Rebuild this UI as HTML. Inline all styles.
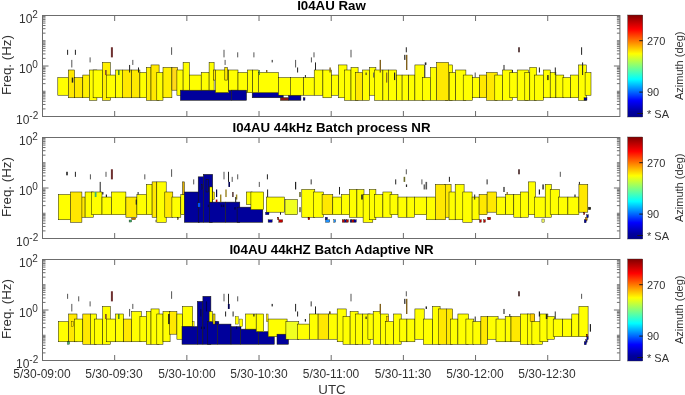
<!DOCTYPE html>
<html><head><meta charset="utf-8"><style>
html,body{margin:0;padding:0;background:#fff;overflow:hidden;}
body{width:685px;height:395px;position:relative;overflow:hidden;font-family:"Liberation Sans",sans-serif;color:#333;}
.t{position:absolute;white-space:nowrap;line-height:1;will-change:transform;}
.title{font-weight:bold;font-size:13.3px;color:#000;text-align:center;width:577px;left:42.5px;}
.yl{font-size:13.3px;transform:rotate(-90deg);transform-origin:0 0;}
.tk{font-size:12px;}
.sup{font-size:10px;position:relative;top:-5.1px;}
.xt{font-size:12px;width:80px;text-align:center;}
.cb{font-size:11px;}
.yl2{font-size:11px;transform:rotate(-90deg);transform-origin:0 0;}
</style></head><body>
<svg width="685" height="395" viewBox="0 0 685 395" style="position:absolute;left:0;top:0">
<g stroke-width="0.5" stroke="#1c1c00">
<rect x="57.8" y="77.56" width="10.5" height="17.67" fill="#ffff00"/>
<rect x="68.3" y="69.99" width="6.2" height="27.78" fill="#ffe800"/>
<rect x="74.5" y="77.56" width="8.3" height="20.20" fill="#ffe800"/>
<rect x="82.8" y="75.04" width="6.6" height="22.72" fill="#fff000"/>
<rect x="89.4" y="69.99" width="7.5" height="30.30" fill="#ffff00"/>
<rect x="93.1" y="69.99" width="9.4" height="27.78" fill="#ffff00"/>
<rect x="102.5" y="62.41" width="7.8" height="37.88" fill="#fff000"/>
<rect x="106.4" y="75.04" width="9.2" height="22.72" fill="#ffff00"/>
<rect x="115.6" y="69.99" width="6.7" height="27.78" fill="#ffff00"/>
<rect x="122.3" y="69.99" width="9.3" height="27.78" fill="#ffe800"/>
<rect x="131.6" y="69.99" width="8.3" height="27.78" fill="#ffe800"/>
<rect x="139.9" y="72.51" width="6.4" height="25.25" fill="#ffff00"/>
<rect x="146.3" y="67.46" width="4.7" height="32.83" fill="#fff000"/>
<rect x="151.0" y="64.94" width="8.1" height="35.35" fill="#ffe800"/>
<rect x="156.8" y="72.51" width="6.2" height="27.78" fill="#ffff00"/>
<rect x="163.0" y="67.46" width="8.9" height="30.30" fill="#fff000"/>
<rect x="171.9" y="67.46" width="5.7" height="22.72" fill="#ffd818"/>
<rect x="176.9" y="69.99" width="6.2" height="25.25" fill="#ffff00"/>
<rect x="180.4" y="90.19" width="50.9" height="10.10" fill="#00009b"/>
<rect x="252.2" y="92.71" width="31.0" height="5.05" fill="#00009b"/>
<rect x="280.5" y="97.76" width="8.0" height="2.53" fill="#8a1414"/>
<rect x="288.5" y="95.24" width="12.4" height="5.05" fill="#00009b"/>
<rect x="303.2" y="97.76" width="1.8" height="2.53" fill="#00009b" stroke-width="0.35"/>
<rect x="183.1" y="62.41" width="6.2" height="27.77" fill="#ffff00"/>
<rect x="189.3" y="75.04" width="11.9" height="15.15" fill="#ffff00"/>
<rect x="201.2" y="72.51" width="7.9" height="17.67" fill="#ffff00"/>
<rect x="209.1" y="62.41" width="5.0" height="27.77" fill="#ffff00"/>
<rect x="213.6" y="69.99" width="1.8" height="10.10" fill="#ffe800"/>
<rect x="215.4" y="69.99" width="13.3" height="22.73" fill="#ffff00"/>
<rect x="224.8" y="67.46" width="2.6" height="12.62" fill="#ffe800"/>
<rect x="228.7" y="69.99" width="9.3" height="20.20" fill="#ffff00"/>
<rect x="238.0" y="72.51" width="9.4" height="20.20" fill="#ffff00"/>
<rect x="231.3" y="90.19" width="15.2" height="10.10" fill="#00009b"/>
<rect x="247.4" y="69.99" width="5.3" height="22.73" fill="#ffff00"/>
<rect x="252.7" y="69.99" width="5.7" height="22.73" fill="#ffff00"/>
<rect x="258.4" y="72.51" width="20.0" height="20.20" fill="#ffff00"/>
<rect x="278.4" y="77.56" width="11.9" height="17.67" fill="#ffff00"/>
<rect x="290.3" y="77.56" width="13.3" height="17.67" fill="#ffff00"/>
<rect x="303.6" y="77.56" width="10.6" height="17.67" fill="#ffff00"/>
<rect x="314.2" y="69.99" width="8.7" height="25.25" fill="#ffff00"/>
<rect x="322.9" y="69.99" width="8.6" height="27.78" fill="#ffff00"/>
<rect x="331.5" y="75.04" width="7.1" height="20.20" fill="#ffff00"/>
<rect x="338.6" y="64.94" width="8.4" height="32.83" fill="#ffff00"/>
<rect x="344.5" y="69.99" width="6.5" height="30.30" fill="#ffff00"/>
<rect x="351.0" y="67.46" width="7.1" height="32.83" fill="#ffff00"/>
<rect x="355.5" y="72.51" width="7.1" height="27.78" fill="#ffe800"/>
<rect x="362.6" y="69.99" width="7.0" height="30.30" fill="#ffff00"/>
<rect x="369.6" y="67.46" width="6.3" height="27.77" fill="#ffff00"/>
<rect x="374.6" y="69.99" width="8.3" height="30.30" fill="#ffff00"/>
<rect x="382.9" y="69.99" width="5.4" height="30.30" fill="#ffff00"/>
<rect x="388.3" y="69.99" width="8.3" height="30.30" fill="#ffff00"/>
<rect x="396.6" y="75.04" width="5.5" height="25.25" fill="#ffff00"/>
<rect x="402.1" y="75.04" width="6.6" height="25.25" fill="#ffff00"/>
<rect x="408.7" y="75.04" width="6.2" height="25.25" fill="#ffff00"/>
<rect x="414.9" y="64.94" width="9.6" height="35.35" fill="#ffff00"/>
<rect x="422.4" y="77.56" width="8.0" height="22.73" fill="#ffff00"/>
<rect x="430.4" y="67.46" width="6.2" height="32.83" fill="#ffff00"/>
<rect x="445.5" y="64.94" width="7.1" height="35.35" fill="#ffff00"/>
<rect x="436.6" y="62.41" width="12.1" height="37.88" fill="#ffe800"/>
<rect x="449.4" y="72.51" width="6.3" height="27.78" fill="#ffff00"/>
<rect x="455.7" y="69.99" width="10.2" height="30.30" fill="#ffff00"/>
<rect x="463.2" y="75.04" width="9.2" height="25.25" fill="#ffff00"/>
<rect x="472.4" y="77.56" width="7.3" height="20.20" fill="#ffff00"/>
<rect x="479.7" y="75.04" width="6.9" height="22.72" fill="#ffe800"/>
<rect x="486.6" y="72.51" width="10.6" height="27.78" fill="#ffe800"/>
<rect x="494.8" y="75.04" width="7.8" height="25.25" fill="#ffff00"/>
<rect x="502.6" y="69.99" width="9.8" height="30.30" fill="#ffff00"/>
<rect x="509.8" y="72.51" width="7.4" height="25.25" fill="#ffff00"/>
<rect x="517.2" y="69.99" width="11.2" height="30.30" fill="#ffff00"/>
<rect x="524.8" y="72.51" width="5.0" height="27.78" fill="#ffff00"/>
<rect x="529.8" y="67.46" width="6.9" height="32.83" fill="#ffff00"/>
<rect x="534.6" y="75.04" width="8.8" height="25.25" fill="#ffff00"/>
<rect x="543.4" y="69.99" width="6.8" height="27.78" fill="#ffff00"/>
<rect x="550.2" y="72.51" width="5.7" height="25.25" fill="#ffff00"/>
<rect x="555.9" y="75.04" width="7.9" height="22.72" fill="#ffff00"/>
<rect x="562.9" y="77.56" width="7.7" height="20.20" fill="#ffff00"/>
<rect x="570.6" y="75.04" width="7.9" height="22.72" fill="#ffff00"/>
<rect x="578.5" y="64.94" width="7.8" height="35.35" fill="#ffff00"/>
<rect x="585.1" y="72.51" width="5.9" height="22.72" fill="#ffff00"/>
<rect x="584.0" y="97.76" width="3.0" height="2.53" fill="#00009b" stroke-width="0.35"/>
</g>
<rect x="67.10" y="49.79" width="1" height="5.05" fill="#222"/>
<rect x="74.90" y="49.79" width="1" height="5.05" fill="#222"/>
<rect x="71.30" y="59.89" width="1" height="7.58" fill="#555"/>
<rect x="89.60" y="57.36" width="1" height="5.05" fill="#555"/>
<rect x="110.90" y="47.26" width="2" height="10.10" fill="#6e3030"/>
<rect x="132.30" y="59.89" width="1" height="5.05" fill="#555"/>
<rect x="129.10" y="64.94" width="1" height="7.58" fill="#222"/>
<rect x="138.00" y="67.46" width="1" height="5.05" fill="#222"/>
<rect x="105.20" y="69.99" width="1.4" height="5.05" fill="#6e3030"/>
<rect x="118.10" y="69.99" width="1.4" height="5.05" fill="#2e7d32"/>
<rect x="71.75" y="77.56" width="1.5" height="5.05" fill="#222"/>
<rect x="171.10" y="47.26" width="1" height="7.58" fill="#555"/>
<rect x="223.50" y="49.79" width="1" height="7.57" fill="#555"/>
<rect x="224.60" y="59.89" width="1" height="5.05" fill="#555"/>
<rect x="237.20" y="52.31" width="1" height="5.05" fill="#555"/>
<rect x="253.40" y="52.31" width="1" height="5.05" fill="#555"/>
<rect x="271.70" y="59.89" width="1" height="2.52" fill="#222"/>
<rect x="295.10" y="59.89" width="1" height="7.58" fill="#555"/>
<rect x="297.10" y="67.46" width="1" height="5.05" fill="#222"/>
<rect x="310.90" y="57.36" width="1" height="5.05" fill="#555"/>
<rect x="313.50" y="52.31" width="1" height="5.05" fill="#555"/>
<rect x="315.00" y="62.41" width="1" height="7.57" fill="#222"/>
<rect x="304.90" y="75.04" width="1" height="2.52" fill="#222"/>
<rect x="266.00" y="69.99" width="1.4" height="2.53" fill="#80601c"/>
<rect x="258.80" y="69.99" width="1" height="5.05" fill="#2e7d32"/>
<rect x="350.50" y="49.79" width="1" height="7.57" fill="#555"/>
<rect x="329.40" y="67.46" width="1.4" height="5.05" fill="#80601c"/>
<rect x="379.60" y="59.89" width="1.4" height="12.62" fill="#80601c"/>
<rect x="405.80" y="47.26" width="1" height="5.05" fill="#222"/>
<rect x="404.20" y="54.84" width="1.2" height="5.05" fill="#222"/>
<rect x="406.00" y="54.84" width="1.4" height="15.15" fill="#80601c"/>
<rect x="365.60" y="72.51" width="1" height="2.53" fill="#222"/>
<rect x="373.20" y="72.51" width="1" height="5.05" fill="#555"/>
<rect x="386.10" y="72.51" width="1.2" height="10.10" fill="#80601c"/>
<rect x="394.00" y="72.51" width="1.2" height="7.58" fill="#222"/>
<rect x="424.80" y="62.41" width="1.6" height="2.52" fill="#222"/>
<rect x="424.50" y="64.94" width="0.8" height="12.62" fill="#222"/>
<rect x="474.70" y="72.51" width="1" height="5.05" fill="#555"/>
<rect x="503.50" y="64.94" width="1" height="5.05" fill="#222"/>
<rect x="518.10" y="47.26" width="1.8" height="5.05" fill="#553838"/>
<rect x="538.90" y="67.46" width="1" height="5.05" fill="#222"/>
<rect x="554.80" y="67.46" width="1" height="7.58" fill="#222"/>
<rect x="581.10" y="47.26" width="1" height="7.58" fill="#222"/>
<rect x="582.10" y="62.41" width="1" height="12.63" fill="#222"/>
<rect x="547.20" y="75.04" width="1.4" height="5.05" fill="#222"/>
<rect x="511.90" y="69.99" width="1" height="2.53" fill="#222"/>
<rect x="42.5" y="15.5" width="577.4" height="101.0" fill="none" stroke="#6c6c6c" stroke-width="1"/>
<path d="M42.5 16.66h3M619.9 16.66h-3M42.5 17.95h3M619.9 17.95h-3M42.5 19.41h3M619.9 19.41h-3M42.5 21.10h3M619.9 21.10h-3M42.5 23.10h3M619.9 23.10h-3M42.5 25.55h3M619.9 25.55h-3M42.5 28.70h3M619.9 28.70h-3M42.5 33.15h3M619.9 33.15h-3M42.5 40.75h3M619.9 40.75h-3M42.5 41.91h3M619.9 41.91h-3M42.5 43.20h3M619.9 43.20h-3M42.5 44.66h3M619.9 44.66h-3M42.5 46.35h3M619.9 46.35h-3M42.5 48.35h3M619.9 48.35h-3M42.5 50.80h3M619.9 50.80h-3M42.5 53.95h3M619.9 53.95h-3M42.5 58.40h3M619.9 58.40h-3M42.5 66.00h6M619.9 66.00h-6M42.5 67.16h3M619.9 67.16h-3M42.5 68.45h3M619.9 68.45h-3M42.5 69.91h3M619.9 69.91h-3M42.5 71.60h3M619.9 71.60h-3M42.5 73.60h3M619.9 73.60h-3M42.5 76.05h3M619.9 76.05h-3M42.5 79.20h3M619.9 79.20h-3M42.5 83.65h3M619.9 83.65h-3M42.5 91.25h3M619.9 91.25h-3M42.5 92.41h3M619.9 92.41h-3M42.5 93.70h3M619.9 93.70h-3M42.5 95.16h3M619.9 95.16h-3M42.5 96.85h3M619.9 96.85h-3M42.5 98.85h3M619.9 98.85h-3M42.5 101.30h3M619.9 101.30h-3M42.5 104.45h3M619.9 104.45h-3M42.5 108.90h3M619.9 108.90h-3M114.67 15.5v5.5M114.67 116.5v-5.5M186.85 15.5v5.5M186.85 116.5v-5.5M259.02 15.5v5.5M259.02 116.5v-5.5M331.20 15.5v5.5M331.20 116.5v-5.5M403.38 15.5v5.5M403.38 116.5v-5.5M475.55 15.5v5.5M475.55 116.5v-5.5M547.72 15.5v5.5M547.72 116.5v-5.5" stroke="#6c6c6c" stroke-width="1" fill="none"/>
<rect x="627.7" y="15.0" width="15.1" height="102.0" fill="url(#jet)" stroke="#333" stroke-width="0.4"/>
<path d="M642.8 40.7h-3.5M642.8 92.1h-3.5M642.8 113.5h-5.5" stroke="#1a1a1a" stroke-width="1"/>
<g stroke-width="0.5" stroke="#1c1c00">
<rect x="58.3" y="194.51" width="12.1" height="25.25" fill="#ffff00"/>
<rect x="79.3" y="197.04" width="5.8" height="20.20" fill="#ffe800"/>
<rect x="70.4" y="191.99" width="11.5" height="30.30" fill="#ffe800"/>
<rect x="85.1" y="191.99" width="8.3" height="25.25" fill="#ffff00"/>
<rect x="91.7" y="191.99" width="10.3" height="22.72" fill="#ffff00"/>
<rect x="102.0" y="197.04" width="9.5" height="17.67" fill="#ffff00"/>
<rect x="111.5" y="191.99" width="14.4" height="22.72" fill="#ffff00"/>
<rect x="125.9" y="197.04" width="11.0" height="20.20" fill="#ffe800"/>
<rect x="136.9" y="194.51" width="9.4" height="20.20" fill="#ffff00"/>
<rect x="129.1" y="220.01" width="2.6" height="2.02" fill="#3cb371" stroke-width="0.35"/>
<rect x="131.7" y="218.00" width="4.0" height="1.64" fill="#e08000" stroke-width="0.35"/>
<rect x="146.3" y="184.41" width="5.8" height="30.30" fill="#ffff00"/>
<rect x="152.1" y="181.89" width="4.7" height="35.35" fill="#ffe800"/>
<rect x="156.8" y="181.89" width="9.4" height="40.40" fill="#ffff00"/>
<rect x="164.8" y="191.99" width="8.0" height="25.25" fill="#ffe800"/>
<rect x="171.9" y="197.04" width="8.9" height="20.20" fill="#ffff00"/>
<rect x="180.8" y="194.51" width="3.5" height="20.20" fill="#ffff00"/>
<rect x="182.6" y="181.89" width="1.7" height="12.62" fill="#e0b000"/>
<rect x="177.3" y="217.24" width="1.1" height="2.53" fill="#9a8420" stroke-width="0.35"/>
<rect x="184.3" y="191.99" width="15.1" height="30.30" fill="#00009b"/>
<rect x="198.2" y="176.84" width="5.1" height="45.45" fill="#00009b"/>
<rect x="203.3" y="174.31" width="9.4" height="47.97" fill="#00009b"/>
<rect x="209.5" y="202.09" width="16.0" height="20.20" fill="#00009b"/>
<rect x="225.5" y="202.09" width="14.3" height="20.20" fill="#00009b"/>
<rect x="237.1" y="207.14" width="25.7" height="15.15" fill="#00009b"/>
<rect x="209.7" y="186.94" width="2.5" height="15.15" fill="#ffff00"/>
<rect x="212.7" y="191.99" width="1.8" height="7.58" fill="#ffe800" stroke-width="0.35"/>
<rect x="206.0" y="179.36" width="2.3" height="12.62" fill="#00009b"/>
<rect x="201.2" y="184.41" width="1.2" height="5.05" fill="#00009b" stroke-width="0.35"/>
<rect x="197.8" y="202.84" width="2.6" height="4.29" fill="#0050ff" stroke-width="0.35"/>
<rect x="246.3" y="191.99" width="5.9" height="12.62" fill="#ffff00"/>
<rect x="250.9" y="191.99" width="12.8" height="17.68" fill="#ffff00"/>
<rect x="266.3" y="197.04" width="18.1" height="15.15" fill="#ffff00"/>
<rect x="285.0" y="199.56" width="12.4" height="15.15" fill="#f0ff20"/>
<rect x="301.8" y="189.46" width="13.0" height="27.78" fill="#ffff00"/>
<rect x="313.3" y="191.99" width="10.1" height="25.25" fill="#ffff00"/>
<rect x="322.1" y="194.51" width="10.7" height="20.20" fill="#ffe800"/>
<rect x="265.5" y="212.19" width="3.5" height="2.52" fill="#00009b" stroke-width="0.35"/>
<rect x="268.1" y="219.76" width="4.1" height="2.53" fill="#00009b" stroke-width="0.35"/>
<rect x="277.5" y="217.24" width="1.3" height="2.53" fill="#c00000" stroke-width="0.35"/>
<rect x="278.8" y="219.76" width="3.9" height="2.53" fill="#c00000" stroke-width="0.35"/>
<rect x="308.0" y="217.24" width="1.8" height="2.53" fill="#c00000" stroke-width="0.35"/>
<rect x="325.2" y="217.24" width="2.3" height="2.53" fill="#00009b" stroke-width="0.35"/>
<rect x="325.5" y="219.76" width="4.3" height="2.53" fill="#1e90ff" stroke-width="0.35"/>
<rect x="333.8" y="219.76" width="1.8" height="2.53" fill="#1e90ff" stroke-width="0.35"/>
<rect x="342.2" y="219.76" width="2.3" height="2.53" fill="#c00000" stroke-width="0.35"/>
<rect x="344.5" y="219.76" width="1.8" height="2.53" fill="#00009b" stroke-width="0.35"/>
<rect x="346.3" y="219.76" width="2.1" height="2.53" fill="#c00000" stroke-width="0.35"/>
<rect x="350.1" y="219.76" width="1.8" height="2.53" fill="#00009b" stroke-width="0.35"/>
<rect x="351.9" y="219.76" width="2.1" height="2.53" fill="#c00000" stroke-width="0.35"/>
<rect x="354.0" y="219.76" width="2.3" height="2.53" fill="#00009b" stroke-width="0.35"/>
<rect x="332.8" y="197.04" width="8.5" height="17.67" fill="#ffff00"/>
<rect x="341.3" y="194.51" width="8.0" height="20.20" fill="#ffff00"/>
<rect x="349.3" y="189.46" width="7.6" height="27.78" fill="#ffff00"/>
<rect x="356.9" y="189.46" width="7.1" height="27.78" fill="#ffff00"/>
<rect x="363.1" y="194.51" width="9.7" height="27.78" fill="#ffff00"/>
<rect x="369.3" y="189.46" width="6.6" height="30.30" fill="#ffff00"/>
<rect x="374.6" y="194.51" width="8.3" height="22.72" fill="#ffff00"/>
<rect x="382.9" y="191.99" width="8.9" height="25.25" fill="#ffff00"/>
<rect x="390.0" y="194.51" width="8.0" height="20.20" fill="#ffff00"/>
<rect x="398.0" y="197.04" width="8.9" height="20.20" fill="#ffff00"/>
<rect x="406.9" y="197.04" width="7.4" height="20.20" fill="#ffff00"/>
<rect x="414.3" y="197.04" width="12.2" height="17.67" fill="#ffff00"/>
<rect x="426.5" y="197.04" width="8.9" height="22.72" fill="#ffff00"/>
<rect x="444.6" y="184.41" width="6.5" height="32.82" fill="#ffe800"/>
<rect x="435.4" y="184.41" width="10.1" height="35.35" fill="#ffe800"/>
<rect x="449.0" y="191.99" width="6.2" height="27.78" fill="#ffff00"/>
<rect x="455.2" y="184.41" width="8.9" height="35.35" fill="#ffff00"/>
<rect x="462.8" y="191.99" width="9.3" height="30.30" fill="#ffff00"/>
<rect x="472.1" y="197.04" width="7.0" height="22.72" fill="#ffff00"/>
<rect x="479.1" y="194.51" width="8.0" height="20.20" fill="#ffe800"/>
<rect x="487.1" y="191.99" width="9.2" height="20.20" fill="#ffe800"/>
<rect x="496.3" y="197.04" width="9.4" height="17.67" fill="#ffff00"/>
<rect x="505.7" y="194.51" width="8.1" height="20.20" fill="#ffff00"/>
<rect x="513.8" y="194.51" width="7.5" height="22.72" fill="#ffff00"/>
<rect x="479.5" y="219.76" width="1.8" height="2.53" fill="#c00000" stroke-width="0.35"/>
<rect x="483.6" y="219.76" width="1.8" height="2.53" fill="#c00000" stroke-width="0.35"/>
<rect x="487.5" y="217.24" width="3.2" height="2.53" fill="#c00000" stroke-width="0.35"/>
<rect x="520.4" y="191.99" width="8.0" height="25.25" fill="#ffff00"/>
<rect x="528.4" y="181.89" width="7.1" height="32.82" fill="#ffff00"/>
<rect x="534.6" y="197.04" width="10.6" height="20.20" fill="#ffff00"/>
<rect x="545.2" y="184.41" width="6.2" height="32.82" fill="#ffff00"/>
<rect x="550.2" y="189.46" width="9.2" height="25.25" fill="#ffff00"/>
<rect x="558.5" y="197.04" width="9.4" height="17.67" fill="#ffff00"/>
<rect x="567.9" y="197.04" width="11.0" height="17.67" fill="#ffff00"/>
<rect x="578.9" y="184.41" width="8.9" height="27.78" fill="#ffe800"/>
<rect x="541.9" y="219.00" width="2.4" height="3.28" fill="#e8f060" stroke-width="0.35"/>
<rect x="583.6" y="212.19" width="1.2" height="2.52" fill="#c00000" stroke-width="0.35"/>
<rect x="588.3" y="207.14" width="2.5" height="2.53" fill="#222" stroke-width="0.35"/>
<rect x="586.6" y="214.71" width="1.8" height="3.03" fill="#00009b" stroke-width="0.35"/>
<rect x="585.4" y="217.74" width="1.8" height="3.03" fill="#e08000" stroke-width="0.35"/>
<rect x="584.2" y="219.76" width="2.0" height="3.03" fill="#00009b" stroke-width="0.35"/>
</g>
<rect x="66.20" y="171.79" width="1.6" height="3.53" fill="#222"/>
<rect x="74.90" y="171.79" width="1" height="5.05" fill="#222"/>
<rect x="89.90" y="174.31" width="1" height="5.05" fill="#555"/>
<rect x="105.50" y="171.79" width="1" height="5.05" fill="#555"/>
<rect x="110.90" y="169.26" width="2" height="10.10" fill="#6e3030"/>
<rect x="144.30" y="174.31" width="1" height="5.05" fill="#555"/>
<rect x="99.70" y="181.89" width="1" height="10.10" fill="#222"/>
<rect x="94.70" y="191.99" width="1.8" height="5.05" fill="#3cb371"/>
<rect x="102.20" y="191.99" width="1.2" height="2.53" fill="#222"/>
<rect x="105.80" y="194.51" width="1.2" height="2.53" fill="#222"/>
<rect x="137.60" y="191.99" width="1" height="2.53" fill="#222"/>
<rect x="135.70" y="199.56" width="1.2" height="5.05" fill="#222"/>
<rect x="171.10" y="169.26" width="1" height="7.57" fill="#555"/>
<rect x="193.20" y="179.36" width="1" height="5.05" fill="#555"/>
<rect x="223.50" y="171.79" width="1" height="7.57" fill="#555"/>
<rect x="228.00" y="171.79" width="1" height="10.10" fill="#222"/>
<rect x="228.40" y="181.89" width="1.6" height="5.05" fill="#000050"/>
<rect x="231.70" y="176.84" width="1" height="5.05" fill="#555"/>
<rect x="237.20" y="174.31" width="1" height="5.05" fill="#555"/>
<rect x="216.00" y="189.46" width="1.2" height="7.58" fill="#000050"/>
<rect x="215.80" y="199.56" width="1.6" height="2.52" fill="#b00000"/>
<rect x="220.00" y="194.51" width="1.4" height="7.57" fill="#9a8420"/>
<rect x="225.30" y="189.46" width="1.4" height="7.58" fill="#9a8420"/>
<rect x="232.20" y="191.99" width="1.4" height="5.05" fill="#4a2828"/>
<rect x="235.90" y="194.51" width="1.4" height="5.05" fill="#9a8420"/>
<rect x="235.20" y="197.04" width="1" height="5.05" fill="#222"/>
<rect x="207.80" y="204.61" width="1" height="2.53" fill="#000050"/>
<rect x="220.75" y="204.61" width="1.5" height="2.53" fill="#000050"/>
<rect x="222.75" y="204.61" width="1.5" height="2.53" fill="#000050"/>
<rect x="234.25" y="207.14" width="1.5" height="2.53" fill="#000050"/>
<rect x="155.50" y="219.76" width="1" height="2.53" fill="#6b6b2a"/>
<rect x="266.90" y="174.31" width="1" height="5.05" fill="#222"/>
<rect x="258.80" y="181.89" width="1" height="5.05" fill="#555"/>
<rect x="295.00" y="181.89" width="1.2" height="7.57" fill="#222"/>
<rect x="310.60" y="179.36" width="1.2" height="5.05" fill="#555"/>
<rect x="267.10" y="189.46" width="1" height="7.58" fill="#222"/>
<rect x="299.20" y="191.99" width="1.6" height="5.05" fill="#6b6b2a"/>
<rect x="299.20" y="207.14" width="1.6" height="5.05" fill="#6b6b2a"/>
<rect x="280.00" y="212.19" width="1" height="2.52" fill="#222"/>
<rect x="339.00" y="186.94" width="1" height="7.57" fill="#222"/>
<rect x="361.20" y="194.51" width="1.6" height="5.05" fill="#222"/>
<rect x="405.80" y="169.26" width="1" height="5.05" fill="#555"/>
<rect x="403.60" y="176.84" width="1.6" height="5.05" fill="#6b6b2a"/>
<rect x="395.20" y="179.36" width="1" height="5.05" fill="#222"/>
<rect x="405.90" y="184.41" width="1.2" height="2.53" fill="#222"/>
<rect x="421.40" y="179.36" width="1" height="5.05" fill="#555"/>
<rect x="423.70" y="184.41" width="1" height="5.05" fill="#222"/>
<rect x="425.50" y="181.89" width="1.6" height="7.57" fill="#555"/>
<rect x="448.90" y="176.84" width="1" height="5.05" fill="#222"/>
<rect x="486.60" y="179.36" width="1" height="5.05" fill="#222"/>
<rect x="503.20" y="186.94" width="1.6" height="5.05" fill="#555"/>
<rect x="506.60" y="191.99" width="1.2" height="2.53" fill="#80601c"/>
<rect x="474.20" y="194.51" width="1" height="5.05" fill="#222"/>
<rect x="518.10" y="169.26" width="1.8" height="5.05" fill="#553838"/>
<rect x="559.80" y="171.79" width="1" height="5.05" fill="#555"/>
<rect x="538.80" y="189.46" width="1.2" height="5.05" fill="#222"/>
<rect x="542.20" y="184.41" width="1.8" height="5.05" fill="#555"/>
<rect x="578.90" y="181.89" width="1" height="2.53" fill="#222"/>
<rect x="574.40" y="194.51" width="1.2" height="2.53" fill="#222"/>
<rect x="42.5" y="137.5" width="577.4" height="101.0" fill="none" stroke="#6c6c6c" stroke-width="1"/>
<path d="M42.5 138.66h3M619.9 138.66h-3M42.5 139.95h3M619.9 139.95h-3M42.5 141.41h3M619.9 141.41h-3M42.5 143.10h3M619.9 143.10h-3M42.5 145.10h3M619.9 145.10h-3M42.5 147.55h3M619.9 147.55h-3M42.5 150.70h3M619.9 150.70h-3M42.5 155.15h3M619.9 155.15h-3M42.5 162.75h3M619.9 162.75h-3M42.5 163.91h3M619.9 163.91h-3M42.5 165.20h3M619.9 165.20h-3M42.5 166.66h3M619.9 166.66h-3M42.5 168.35h3M619.9 168.35h-3M42.5 170.35h3M619.9 170.35h-3M42.5 172.80h3M619.9 172.80h-3M42.5 175.95h3M619.9 175.95h-3M42.5 180.40h3M619.9 180.40h-3M42.5 188.00h6M619.9 188.00h-6M42.5 189.16h3M619.9 189.16h-3M42.5 190.45h3M619.9 190.45h-3M42.5 191.91h3M619.9 191.91h-3M42.5 193.60h3M619.9 193.60h-3M42.5 195.60h3M619.9 195.60h-3M42.5 198.05h3M619.9 198.05h-3M42.5 201.20h3M619.9 201.20h-3M42.5 205.65h3M619.9 205.65h-3M42.5 213.25h3M619.9 213.25h-3M42.5 214.41h3M619.9 214.41h-3M42.5 215.70h3M619.9 215.70h-3M42.5 217.16h3M619.9 217.16h-3M42.5 218.85h3M619.9 218.85h-3M42.5 220.85h3M619.9 220.85h-3M42.5 223.30h3M619.9 223.30h-3M42.5 226.45h3M619.9 226.45h-3M42.5 230.90h3M619.9 230.90h-3M114.67 137.5v5.5M114.67 238.5v-5.5M186.85 137.5v5.5M186.85 238.5v-5.5M259.02 137.5v5.5M259.02 238.5v-5.5M331.20 137.5v5.5M331.20 238.5v-5.5M403.38 137.5v5.5M403.38 238.5v-5.5M475.55 137.5v5.5M475.55 238.5v-5.5M547.72 137.5v5.5M547.72 238.5v-5.5" stroke="#6c6c6c" stroke-width="1" fill="none"/>
<rect x="627.7" y="137.0" width="15.1" height="102.0" fill="url(#jet)" stroke="#333" stroke-width="0.4"/>
<path d="M642.8 162.7h-3.5M642.8 214.1h-3.5M642.8 235.5h-5.5" stroke="#1a1a1a" stroke-width="1"/>
<g stroke-width="0.5" stroke="#1c1c00">
<rect x="58.3" y="321.56" width="10.3" height="20.20" fill="#ffff00"/>
<rect x="68.6" y="313.99" width="8.4" height="27.77" fill="#ffe800"/>
<rect x="74.5" y="319.04" width="8.3" height="22.73" fill="#ffff00"/>
<rect x="82.8" y="313.99" width="7.6" height="30.30" fill="#ffe800"/>
<rect x="90.4" y="313.99" width="6.1" height="30.30" fill="#ffff00"/>
<rect x="94.3" y="319.04" width="8.4" height="25.25" fill="#ffff00"/>
<rect x="102.7" y="306.41" width="7.6" height="37.88" fill="#ffff00"/>
<rect x="106.4" y="319.04" width="9.2" height="22.73" fill="#ffff00"/>
<rect x="115.6" y="313.99" width="8.0" height="27.77" fill="#ffff00"/>
<rect x="123.6" y="319.04" width="8.0" height="22.73" fill="#ffe800"/>
<rect x="131.6" y="311.46" width="9.7" height="30.30" fill="#ffff00"/>
<rect x="139.9" y="316.51" width="6.4" height="25.25" fill="#ffff00"/>
<rect x="71.6" y="321.56" width="1.8" height="5.05" fill="#ffe800" stroke-width="0.35"/>
<rect x="67.4" y="341.76" width="2.1" height="2.52" fill="#3cb371" stroke-width="0.35"/>
<rect x="146.3" y="311.46" width="4.7" height="32.82" fill="#ffff00"/>
<rect x="151.0" y="308.94" width="8.1" height="35.35" fill="#ffff00"/>
<rect x="156.8" y="313.99" width="6.2" height="30.30" fill="#ffff00"/>
<rect x="163.0" y="311.46" width="7.1" height="30.30" fill="#ffff00"/>
<rect x="169.3" y="311.46" width="7.6" height="22.73" fill="#ffe800"/>
<rect x="176.9" y="313.99" width="5.7" height="25.25" fill="#ffff00"/>
<rect x="182.6" y="306.41" width="10.1" height="20.20" fill="#ffff00"/>
<rect x="192.7" y="321.56" width="1.4" height="5.05" fill="#ffff00" stroke-width="0.35"/>
<rect x="182.0" y="326.61" width="15.6" height="17.67" fill="#00009b"/>
<rect x="197.3" y="301.36" width="5.6" height="42.92" fill="#00009b"/>
<rect x="202.9" y="296.31" width="8.0" height="47.97" fill="#00009b"/>
<rect x="207.4" y="321.56" width="10.1" height="22.72" fill="#00009b"/>
<rect x="215.0" y="321.56" width="3.9" height="2.52" fill="#00009b" stroke-width="0.35"/>
<rect x="217.5" y="324.09" width="13.5" height="20.20" fill="#00009b"/>
<rect x="231.0" y="326.61" width="9.6" height="17.67" fill="#00009b"/>
<rect x="240.6" y="329.14" width="17.8" height="15.15" fill="#00009b"/>
<rect x="258.4" y="331.66" width="15.9" height="12.62" fill="#00009b"/>
<rect x="209.1" y="311.46" width="3.2" height="10.10" fill="#ffff00"/>
<rect x="213.0" y="313.99" width="2.0" height="10.10" fill="#ffe800"/>
<rect x="235.2" y="316.51" width="3.2" height="7.57" fill="#ffff00" stroke-width="0.35"/>
<rect x="239.8" y="319.04" width="3.0" height="7.58" fill="#ffff00" stroke-width="0.35"/>
<rect x="245.6" y="313.99" width="10.6" height="15.15" fill="#ffff00"/>
<rect x="256.2" y="313.99" width="7.5" height="17.67" fill="#ffff00"/>
<rect x="266.3" y="313.99" width="1.8" height="7.57" fill="#ffe800" stroke-width="0.35"/>
<rect x="268.1" y="319.04" width="19.0" height="17.68" fill="#ffff00"/>
<rect x="277.0" y="334.19" width="11.5" height="10.10" fill="#00009b"/>
<rect x="285.9" y="321.56" width="12.9" height="17.68" fill="#f0ff20"/>
<rect x="297.4" y="324.09" width="12.0" height="15.15" fill="#ffff00"/>
<rect x="309.4" y="313.99" width="8.7" height="25.25" fill="#ffff00"/>
<rect x="318.1" y="313.99" width="10.4" height="25.25" fill="#ffe800"/>
<rect x="328.5" y="313.99" width="8.7" height="25.25" fill="#ffff00"/>
<rect x="337.2" y="308.94" width="9.0" height="32.82" fill="#ffff00"/>
<rect x="343.0" y="316.51" width="7.1" height="27.77" fill="#ffff00"/>
<rect x="350.1" y="311.46" width="8.0" height="32.82" fill="#ffff00"/>
<rect x="355.5" y="313.99" width="7.1" height="30.30" fill="#ffff00"/>
<rect x="362.6" y="313.99" width="7.6" height="30.30" fill="#ffff00"/>
<rect x="367.9" y="313.99" width="5.3" height="25.25" fill="#ffff00"/>
<rect x="373.2" y="311.46" width="7.1" height="32.82" fill="#ffff00"/>
<rect x="380.3" y="313.99" width="8.0" height="30.30" fill="#ffff00"/>
<rect x="385.6" y="321.56" width="8.0" height="22.72" fill="#ffff00"/>
<rect x="393.6" y="313.99" width="7.6" height="30.30" fill="#ffff00"/>
<rect x="399.8" y="319.04" width="7.1" height="22.73" fill="#ffff00"/>
<rect x="406.9" y="319.04" width="8.0" height="22.73" fill="#ffff00"/>
<rect x="414.9" y="308.94" width="9.3" height="30.30" fill="#ffff00"/>
<rect x="423.3" y="319.04" width="9.4" height="25.25" fill="#ffff00"/>
<rect x="432.7" y="306.41" width="7.4" height="37.88" fill="#ffff00"/>
<rect x="438.4" y="308.94" width="7.9" height="35.35" fill="#ffe800"/>
<rect x="446.3" y="308.94" width="6.3" height="35.35" fill="#ffe800"/>
<rect x="450.4" y="319.04" width="7.5" height="25.25" fill="#ffff00"/>
<rect x="457.9" y="313.99" width="10.6" height="30.30" fill="#ffff00"/>
<rect x="465.9" y="319.04" width="7.9" height="25.25" fill="#ffff00"/>
<rect x="472.9" y="321.56" width="8.0" height="22.72" fill="#ffff00"/>
<rect x="480.9" y="316.51" width="6.6" height="27.77" fill="#ffe800"/>
<rect x="487.5" y="316.51" width="10.6" height="22.73" fill="#ffff00"/>
<rect x="496.0" y="319.04" width="9.2" height="22.73" fill="#ffff00"/>
<rect x="505.2" y="316.51" width="5.8" height="25.25" fill="#ffff00"/>
<rect x="511.0" y="316.51" width="9.4" height="25.25" fill="#ffe800"/>
<rect x="520.4" y="313.99" width="8.0" height="30.30" fill="#ffff00"/>
<rect x="527.5" y="313.99" width="7.1" height="30.30" fill="#ffff00"/>
<rect x="530.1" y="313.99" width="4.5" height="7.57" fill="#ffd000" stroke-width="0.35"/>
<rect x="531.9" y="321.56" width="10.7" height="22.72" fill="#ffff00"/>
<rect x="539.9" y="313.99" width="8.0" height="27.77" fill="#ffff00"/>
<rect x="547.0" y="316.51" width="7.6" height="22.73" fill="#ffff00"/>
<rect x="553.2" y="319.04" width="9.4" height="17.68" fill="#ffff00"/>
<rect x="562.6" y="319.04" width="9.2" height="17.68" fill="#ffff00"/>
<rect x="571.8" y="313.99" width="7.1" height="22.72" fill="#ffff00"/>
<rect x="578.9" y="306.41" width="9.2" height="30.30" fill="#ffff00"/>
<rect x="386.5" y="316.51" width="2.3" height="5.05" fill="#ffc800" stroke-width="0.35"/>
<rect x="586.3" y="334.19" width="1.3" height="2.52" fill="#c00000" stroke-width="0.35"/>
<rect x="586.8" y="336.71" width="1.5" height="3.03" fill="#00009b" stroke-width="0.35"/>
<rect x="585.6" y="339.74" width="1.6" height="2.52" fill="#00009b" stroke-width="0.35"/>
<rect x="584.2" y="341.76" width="2.2" height="3.03" fill="#00009b" stroke-width="0.35"/>
</g>
<rect x="67.10" y="293.79" width="1" height="5.05" fill="#555"/>
<rect x="78.20" y="296.31" width="1" height="5.05" fill="#555"/>
<rect x="71.30" y="303.89" width="1" height="7.57" fill="#555"/>
<rect x="89.60" y="301.36" width="1" height="5.05" fill="#555"/>
<rect x="110.90" y="291.26" width="2" height="10.10" fill="#6e3030"/>
<rect x="132.30" y="303.89" width="1" height="5.05" fill="#555"/>
<rect x="129.10" y="308.94" width="1" height="7.57" fill="#555"/>
<rect x="105.20" y="313.99" width="1.4" height="5.05" fill="#6e3030"/>
<rect x="118.10" y="313.99" width="1.4" height="5.05" fill="#2e7d32"/>
<rect x="171.10" y="291.26" width="1" height="7.57" fill="#555"/>
<rect x="223.50" y="293.79" width="1" height="7.58" fill="#555"/>
<rect x="228.00" y="293.79" width="1" height="10.10" fill="#222"/>
<rect x="227.90" y="303.89" width="1.8" height="5.05" fill="#000050"/>
<rect x="237.20" y="296.31" width="1" height="5.05" fill="#555"/>
<rect x="225.10" y="311.46" width="1" height="5.05" fill="#222"/>
<rect x="232.60" y="311.46" width="1" height="5.05" fill="#222"/>
<rect x="168.10" y="313.99" width="1.6" height="10.10" fill="#222"/>
<rect x="200.30" y="308.94" width="1" height="7.57" fill="#000050"/>
<rect x="205.90" y="301.36" width="1.2" height="10.10" fill="#000050"/>
<rect x="200.90" y="326.61" width="1.2" height="2.52" fill="#000050"/>
<rect x="203.60" y="326.61" width="1.2" height="2.52" fill="#000050"/>
<rect x="236.00" y="326.61" width="1.2" height="2.52" fill="#000050"/>
<rect x="240.00" y="326.61" width="1.2" height="2.52" fill="#000050"/>
<rect x="271.60" y="303.89" width="1.2" height="2.52" fill="#222"/>
<rect x="295.10" y="303.89" width="1" height="7.57" fill="#222"/>
<rect x="297.10" y="311.46" width="1" height="5.05" fill="#222"/>
<rect x="310.60" y="301.36" width="1.2" height="5.05" fill="#555"/>
<rect x="315.00" y="306.41" width="1" height="7.58" fill="#222"/>
<rect x="304.80" y="319.04" width="1.2" height="2.53" fill="#222"/>
<rect x="329.10" y="311.46" width="1" height="2.53" fill="#222"/>
<rect x="253.30" y="313.99" width="1.2" height="2.52" fill="#222"/>
<rect x="350.50" y="293.79" width="1" height="7.58" fill="#555"/>
<rect x="329.50" y="311.46" width="1.2" height="2.53" fill="#80601c"/>
<rect x="379.60" y="303.89" width="1.4" height="10.10" fill="#80601c"/>
<rect x="405.80" y="291.26" width="1" height="5.05" fill="#555"/>
<rect x="404.20" y="298.84" width="1.2" height="5.05" fill="#222"/>
<rect x="406.00" y="298.84" width="1.4" height="15.15" fill="#80601c"/>
<rect x="365.50" y="316.51" width="1.2" height="2.52" fill="#222"/>
<rect x="425.60" y="306.41" width="1.4" height="2.53" fill="#222"/>
<rect x="503.30" y="308.94" width="1.4" height="5.05" fill="#555"/>
<rect x="474.70" y="316.51" width="1" height="5.05" fill="#222"/>
<rect x="518.10" y="291.26" width="1.8" height="5.05" fill="#553838"/>
<rect x="581.10" y="293.79" width="1" height="5.05" fill="#555"/>
<rect x="538.80" y="311.46" width="1.2" height="5.05" fill="#222"/>
<rect x="554.70" y="311.46" width="1.2" height="7.57" fill="#555"/>
<rect x="509.30" y="313.99" width="1" height="2.52" fill="#222"/>
<rect x="545.80" y="313.99" width="1.6" height="5.05" fill="#222"/>
<rect x="589.80" y="324.09" width="1.2" height="7.57" fill="#222"/>
<rect x="42.5" y="259.5" width="577.4" height="101.0" fill="none" stroke="#6c6c6c" stroke-width="1"/>
<path d="M42.5 260.66h3M619.9 260.66h-3M42.5 261.95h3M619.9 261.95h-3M42.5 263.41h3M619.9 263.41h-3M42.5 265.10h3M619.9 265.10h-3M42.5 267.10h3M619.9 267.10h-3M42.5 269.55h3M619.9 269.55h-3M42.5 272.70h3M619.9 272.70h-3M42.5 277.15h3M619.9 277.15h-3M42.5 284.75h3M619.9 284.75h-3M42.5 285.91h3M619.9 285.91h-3M42.5 287.20h3M619.9 287.20h-3M42.5 288.66h3M619.9 288.66h-3M42.5 290.35h3M619.9 290.35h-3M42.5 292.35h3M619.9 292.35h-3M42.5 294.80h3M619.9 294.80h-3M42.5 297.95h3M619.9 297.95h-3M42.5 302.40h3M619.9 302.40h-3M42.5 310.00h6M619.9 310.00h-6M42.5 311.16h3M619.9 311.16h-3M42.5 312.45h3M619.9 312.45h-3M42.5 313.91h3M619.9 313.91h-3M42.5 315.60h3M619.9 315.60h-3M42.5 317.60h3M619.9 317.60h-3M42.5 320.05h3M619.9 320.05h-3M42.5 323.20h3M619.9 323.20h-3M42.5 327.65h3M619.9 327.65h-3M42.5 335.25h3M619.9 335.25h-3M42.5 336.41h3M619.9 336.41h-3M42.5 337.70h3M619.9 337.70h-3M42.5 339.16h3M619.9 339.16h-3M42.5 340.85h3M619.9 340.85h-3M42.5 342.85h3M619.9 342.85h-3M42.5 345.30h3M619.9 345.30h-3M42.5 348.45h3M619.9 348.45h-3M42.5 352.90h3M619.9 352.90h-3M114.67 259.5v5.5M114.67 360.5v-5.5M186.85 259.5v5.5M186.85 360.5v-5.5M259.02 259.5v5.5M259.02 360.5v-5.5M331.20 259.5v5.5M331.20 360.5v-5.5M403.38 259.5v5.5M403.38 360.5v-5.5M475.55 259.5v5.5M475.55 360.5v-5.5M547.72 259.5v5.5M547.72 360.5v-5.5" stroke="#6c6c6c" stroke-width="1" fill="none"/>
<rect x="627.7" y="259.0" width="15.1" height="102.0" fill="url(#jet)" stroke="#333" stroke-width="0.4"/>
<path d="M642.8 284.7h-3.5M642.8 336.1h-3.5M642.8 357.5h-5.5" stroke="#1a1a1a" stroke-width="1"/>
<defs><linearGradient id="jet" x1="0" y1="1" x2="0" y2="0">
<stop offset="0" stop-color="#00008f"/>
<stop offset="0.05" stop-color="#00009c"/>
<stop offset="0.16" stop-color="#0000ff"/>
<stop offset="0.37" stop-color="#00ffff"/>
<stop offset="0.62" stop-color="#ffff00"/>
<stop offset="0.86" stop-color="#ff0000"/>
<stop offset="1" stop-color="#800000"/>
</linearGradient></defs>
</svg>
<div class="t title" style="top:-1.1px">I04AU Raw</div>
<div class="t yl" style="left:-0.5px;top:95.4px">Freq. (Hz)</div>
<div class="t tk" style="right:646.8px;top:12.5px">10<span class="sup">2</span></div>
<div class="t tk" style="right:646.8px;top:63.0px">10<span class="sup">0</span></div>
<div class="t tk" style="right:646.8px;top:113.5px">10<span class="sup">-2</span></div>
<div class="t cb" style="left:647px;top:36.0px">270</div>
<div class="t cb" style="left:647px;top:86.5px">90</div>
<div class="t cb" style="left:647px;top:109.3px">* SA</div>
<div class="t yl2" style="left:673.5px;top:99.5px">Azimuth (deg)</div>
<div class="t title" style="top:120.9px">I04AU 44kHz Batch process NR</div>
<div class="t yl" style="left:-0.5px;top:217.4px">Freq. (Hz)</div>
<div class="t tk" style="right:646.8px;top:134.5px">10<span class="sup">2</span></div>
<div class="t tk" style="right:646.8px;top:185.0px">10<span class="sup">0</span></div>
<div class="t tk" style="right:646.8px;top:235.5px">10<span class="sup">-2</span></div>
<div class="t cb" style="left:647px;top:158.0px">270</div>
<div class="t cb" style="left:647px;top:208.5px">90</div>
<div class="t cb" style="left:647px;top:231.3px">* SA</div>
<div class="t yl2" style="left:673.5px;top:221.5px">Azimuth (deg)</div>
<div class="t title" style="top:242.9px">I04AU 44kHZ Batch Adaptive NR</div>
<div class="t yl" style="left:-0.5px;top:339.4px">Freq. (Hz)</div>
<div class="t tk" style="right:646.8px;top:256.5px">10<span class="sup">2</span></div>
<div class="t tk" style="right:646.8px;top:307.0px">10<span class="sup">0</span></div>
<div class="t tk" style="right:646.8px;top:357.5px">10<span class="sup">-2</span></div>
<div class="t cb" style="left:647px;top:280.0px">270</div>
<div class="t cb" style="left:647px;top:330.5px">90</div>
<div class="t cb" style="left:647px;top:353.3px">* SA</div>
<div class="t yl2" style="left:673.5px;top:343.5px">Azimuth (deg)</div>
<div class="t xt" style="left:2.2px;top:367.9px">5/30-09:00</div>
<div class="t xt" style="left:74.4px;top:367.9px">5/30-09:30</div>
<div class="t xt" style="left:146.6px;top:367.9px">5/30-10:00</div>
<div class="t xt" style="left:218.7px;top:367.9px">5/30-10:30</div>
<div class="t xt" style="left:290.9px;top:367.9px">5/30-11:00</div>
<div class="t xt" style="left:363.1px;top:367.9px">5/30-11:30</div>
<div class="t xt" style="left:435.2px;top:367.9px">5/30-12:00</div>
<div class="t xt" style="left:507.4px;top:367.9px">5/30-12:30</div>
<div style="position:absolute;left:0;top:375px;width:685px;height:20px;overflow:hidden"><div class="t" style="font-size:13.3px;left:292px;width:80px;text-align:center;top:8.1px">UTC</div></div>
</body></html>
